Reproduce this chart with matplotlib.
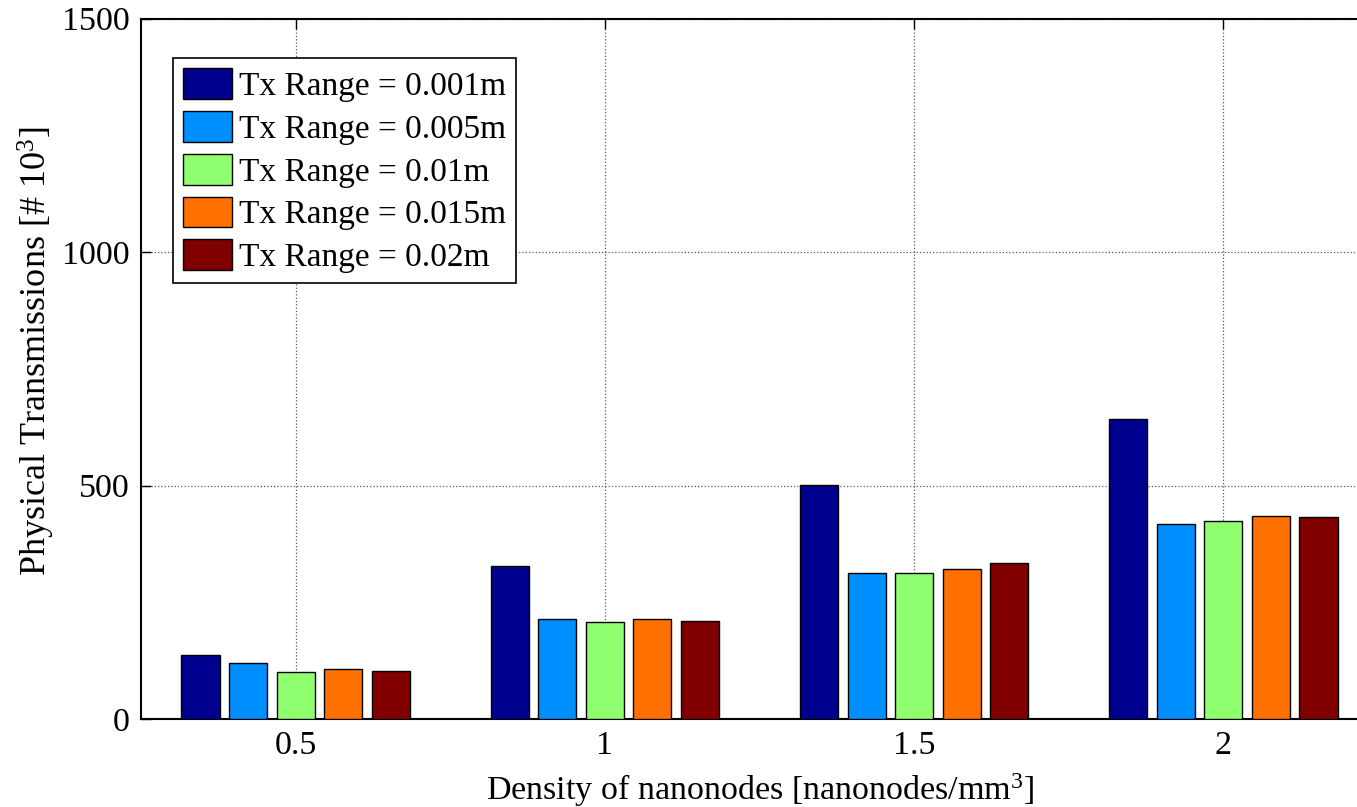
import matplotlib
matplotlib.use("Agg")
import matplotlib.pyplot as plt
import numpy as np

plt.rcParams['font.family'] = ['Liberation Serif', 'DejaVu Serif']
plt.rcParams['mathtext.fontset'] = 'custom'
plt.rcParams['mathtext.rm'] = 'Liberation Serif'
plt.rcParams['mathtext.it'] = 'Liberation Serif:italic'

densities = [0.5, 1.0, 1.5, 2.0]
series_labels = ['Tx Range = 0.001m', 'Tx Range = 0.005m', 'Tx Range = 0.01m',
                 'Tx Range = 0.015m', 'Tx Range = 0.02m']
range_0001 = [137, 328, 501, 643]
range_0005 = [119, 215, 312, 417]
range_001 = [101, 207, 312, 425]
range_0015 = [106, 214, 321, 435]
range_002 = [103, 210, 334, 433]
series_values = [range_0001, range_0005, range_001, range_0015, range_002]
colors = ['#00008F', '#008FFF', '#8FFF6F', '#FF7000', '#800000']
yticks = [0, 500, 1000, 1500]
xticks = [0.5, 1, 1.5, 2]
xticklabels = ['0.5', '1', '1.5', '2']

fig = plt.figure(figsize=(13.57, 8.07), dpi=100)
ax = fig.add_axes([141/1357, 1-719/807, 1237/1357, (719-18.5)/807])

n = len(series_values)
xdiff = 0.5
groupwidth = min(0.8, n/(n+1.5))
step = groupwidth/n * xdiff
width = 0.8 * step
x = np.array(densities)
for i, (vals, lab, c) in enumerate(zip(series_values, series_labels, colors)):
    offs = (i - (n-1)/2) * step
    ax.bar(x + offs, vals, width=width, color=c, edgecolor='black',
           linewidth=1.0, label=lab, zorder=3)

ax.set_xlim(0.25, 2.25)
ax.set_ylim(0, 1500)
ax.set_xticks(xticks)
ax.set_xticklabels(xticklabels)
ax.set_yticks(yticks)
ax.tick_params(direction='in', length=7, width=1, labelsize=24.5, pad=8,
               top=True, right=False)
ax.grid(True, linestyle=':', color='0.35', linewidth=0.9, zorder=0)
ax.set_axisbelow(True)
for s in ['left', 'top', 'bottom']:
    ax.spines[s].set_linewidth(1.5)
ax.spines['right'].set_visible(False)

ax.set_xlabel('Density of nanonodes [nanonodes/mm$^3$]', fontsize=24.5, labelpad=8)
ax.set_ylabel('Physical Transmissions [# 10$^3$]', fontsize=26)
ax.yaxis.set_label_coords(-0.068, 0.525)

leg = ax.legend(loc='upper left', bbox_to_anchor=(32/1237, (719-58)/700.5),
                borderaxespad=0, fontsize=24, fancybox=False, framealpha=1,
                edgecolor='black', handlelength=1.47, handleheight=1.05,
                handletextpad=0.2, labelspacing=0.27, borderpad=0.3)
leg.get_frame().set_linewidth(1.2)

fig.savefig('out.png', dpi=100)
